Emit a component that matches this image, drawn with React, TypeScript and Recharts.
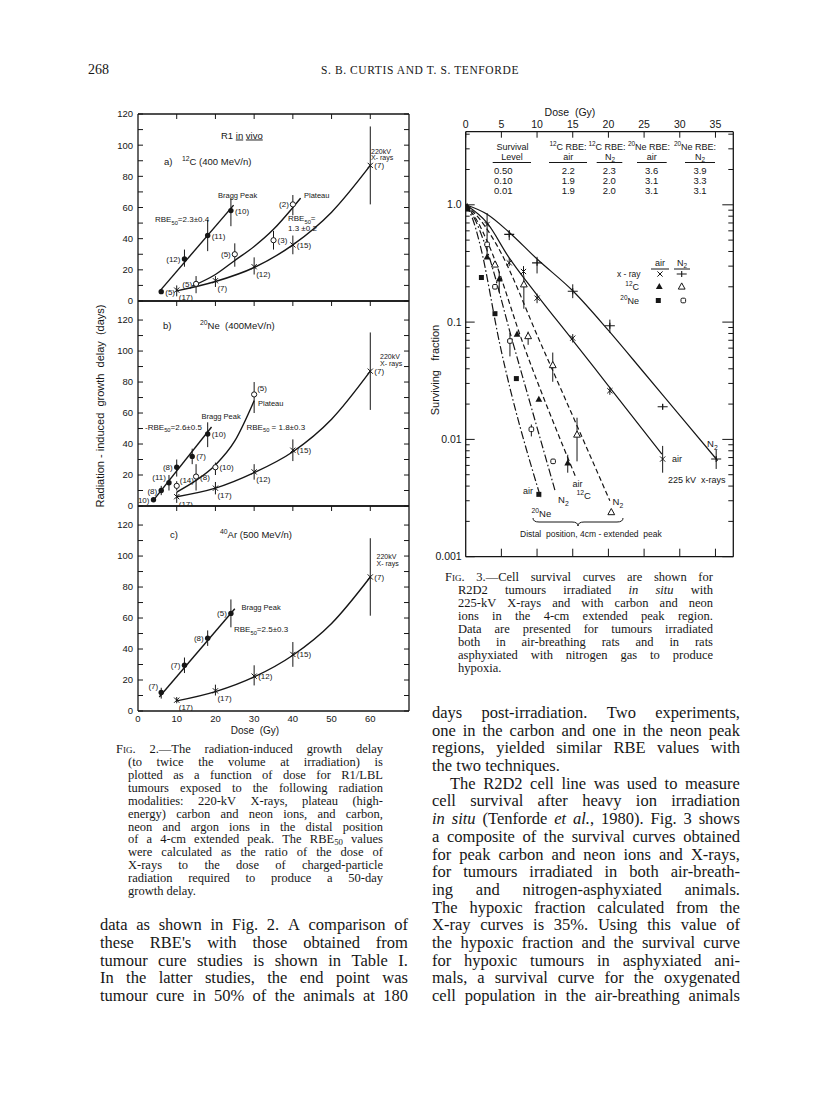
import React from 'react';
import { ComposedChart, Line, Scatter, XAxis, YAxis, ErrorBar } from 'recharts';

const INK = '#161616';
const SANS = '"Liberation Sans", Arial, sans-serif';
const SERIF = '"Liberation Serif", "Times New Roman", serif';

// ---------- Fig. 2: growth delay (days) vs dose (Gy); e = [down, up], n = tumours
const doseTicks = [0, 10, 20, 30, 40, 50, 60];
const delayTicks = [0, 10, 20, 30, 40, 50, 60, 70, 80, 90, 100, 110, 120];
const delayLabels = [0, 20, 40, 60, 80, 100, 120];

const cPeak = [
  { d: 6, v: 6, e: [1.5, 1.5], n: 5 },
  { d: 12, v: 27, e: [5, 6], n: 12 },
  { d: 18, v: 42, e: [10, 10], n: 11 },
  { d: 24, v: 58, e: [10, 8], n: 10 },
];
const cPeakSide = ['r', 'l', 'r', 'r'];
const cPlateau = [
  { d: 15, v: 11, e: [6, 5], n: 5 },
  { d: 25, v: 30, e: [8, 7], n: 5 },
  { d: 35, v: 39, e: [6, 6], n: 3 },
  { d: 40, v: 62, e: [7, 6], n: 2 },
];
const cPlateauSide = ['l', 'l', 'r', 'l'];
const cXray = [
  { d: 10, v: 7, e: [4, 3], n: 17 },
  { d: 20, v: 13, e: [4, 3], n: 7 },
  { d: 30, v: 22, e: [5, 6], n: 12 },
  { d: 40, v: 36, e: [6, 6], n: 15 },
  { d: 60, v: 87, e: [25, 25], n: 7 },
];
const cXraySide = ['br', 'br', 'br', 'r', 'r'];
const cPeakFit = [{ d: 5.5, v: 6 }, { d: 24.7, v: 61.5 }];
const cPlateauFit = [
  { d: 14, v: 9.5 }, { d: 20, v: 17 }, { d: 25, v: 26 }, { d: 30, v: 35 },
  { d: 35, v: 46 }, { d: 40, v: 60 }, { d: 42, v: 66 },
];
const cXrayFit = [
  { d: 10, v: 6.5 }, { d: 20, v: 12.5 }, { d: 30, v: 21.5 }, { d: 40, v: 36 },
  { d: 50, v: 57 }, { d: 60, v: 87 },
];

const nePeak = [
  { d: 4, v: 4, e: [1, 1], n: 10 },
  { d: 6, v: 10, e: [3, 3], n: 8 },
  { d: 8, v: 15, e: [5, 5], n: 11 },
  { d: 10, v: 25, e: [6, 5], n: 8 },
  { d: 14, v: 32, e: [5, 5], n: 7 },
  { d: 18, v: 46.5, e: [8.5, 7.5], n: 10 },
];
const nePeakSide = ['l', 'l', 'ul', 'l', 'r', 'r'];
const nePlateau = [
  { d: 10, v: 13, e: [3, 3], n: 14 },
  { d: 15, v: 19, e: [9, 8], n: 8 },
  { d: 20, v: 25, e: [5, 3], n: 10 },
  { d: 30, v: 72, e: [12, 8], n: 5 },
];
const nePlateauSide = ['ur', 'r', 'r', 'ur'];
const neXray = [
  { d: 10, v: 6, e: [4, 3], n: 17 },
  { d: 20, v: 11.5, e: [4, 4], n: 17 },
  { d: 30, v: 22, e: [5, 5], n: 12 },
  { d: 40, v: 36, e: [7, 7], n: 15 },
  { d: 60, v: 87, e: [25, 25], n: 7 },
];
const neXraySide = ['br', 'br', 'br', 'r', 'r'];
const nePeakFit = [{ d: 3.7, v: 2.8 }, { d: 19, v: 51 }];
const nePlateauFit = [
  { d: 10, v: 9 }, { d: 15, v: 16.5 }, { d: 20, v: 26.5 }, { d: 25, v: 42 }, { d: 30, v: 68 },
];
const neXrayFit = [
  { d: 10, v: 6 }, { d: 20, v: 11.5 }, { d: 30, v: 21.5 }, { d: 40, v: 35 },
  { d: 50, v: 56 }, { d: 60, v: 87 },
];

const arPeak = [
  { d: 6, v: 12, e: [4, 3], n: 7 },
  { d: 12, v: 29.5, e: [5, 5], n: 7 },
  { d: 18, v: 47, e: [5, 5], n: 8 },
  { d: 24, v: 63, e: [9, 9], n: 5 },
];
const arPeakSide = ['ul', 'l', 'l', 'l'];
const arXray = [
  { d: 10, v: 7, e: [2, 2], n: 17 },
  { d: 20, v: 13, e: [3, 4], n: 17 },
  { d: 30, v: 22.5, e: [6, 7], n: 12 },
  { d: 40, v: 36.5, e: [8, 8], n: 15 },
  { d: 60, v: 86.5, e: [25, 25], n: 7 },
];
const arXraySide = ['br', 'br', 'r', 'r', 'r'];
const arPeakFit = [{ d: 5.5, v: 9 }, { d: 25, v: 66 }];
const arXrayFit = [
  { d: 10, v: 6.5 }, { d: 20, v: 12.5 }, { d: 30, v: 22 }, { d: 40, v: 36 },
  { d: 50, v: 56.5 }, { d: 60, v: 86.5 },
];

// ---------- Fig. 3: surviving fraction vs dose (Gy)
const survDoseTicks = [0, 5, 10, 15, 20, 25, 30, 35];
const survMajor = [0.001, 0.01, 0.1, 1];
const survTicks = [
  0.001, 0.002, 0.003, 0.004, 0.005, 0.006, 0.007, 0.008, 0.009,
  0.01, 0.02, 0.03, 0.04, 0.05, 0.06, 0.07, 0.08, 0.09,
  0.1, 0.2, 0.3, 0.4, 0.5, 0.6, 0.7, 0.8, 0.9,
  1, 2, 3, 4,
];

const xAir = [
  { d: 3, v: 0.68, e: [0.13, 0.17] },
  { d: 6.1, v: 0.32, e: [0.02, 0.03] },
  { d: 8.1, v: 0.27, e: [0.02, 0.03] },
  { d: 10, v: 0.16, e: [0.015, 0.015] },
  { d: 15, v: 0.073, e: [0.006, 0.006] },
  { d: 20.2, v: 0.026, e: [0.002, 0.002] },
  { d: 27.6, v: 0.0068, e: [0.0016, 0.002] },
];
const xN2 = [
  { d: 6.1, v: 0.56, e: [0.06, 0.05] },
  { d: 10, v: 0.32, e: [0.06, 0.04] },
  { d: 15, v: 0.183, e: [0.023, 0.027] },
  { d: 20.2, v: 0.093, e: [0.012, 0.012] },
  { d: 27.6, v: 0.019, e: [0.001, 0.001] },
  { d: 35.1, v: 0.0068, e: [0.0012, 0.0014] },
];
const cAir = [
  { d: 0.2, v: 0.97, e: [0, 0] },
  { d: 3, v: 0.36, e: [0, 0] },
  { d: 4.7, v: 0.234, e: [0.054, 0.036] },
  { d: 7.2, v: 0.079, e: [0, 0] },
  { d: 10.25, v: 0.022, e: [0, 0] },
  { d: 14.3, v: 0.0063, e: [0.0011, 0.0011] },
];
const cN2 = [
  { d: 4.1, v: 0.31, e: [0, 0] },
  { d: 8.15, v: 0.21, e: [0.08, 0.04] },
  { d: 8.75, v: 0.076, e: [0.012, 0.007] },
  { d: 12.2, v: 0.043, e: [0.012, 0.012] },
  { d: 15.6, v: 0.011, e: [0.0045, 0.0043] },
  { d: 20.4, v: 0.0024, e: [0, 0] },
];
const neN2 = [
  { d: 3, v: 0.46, e: [0.1, 0.095] },
  { d: 4.1, v: 0.2, e: [0, 0] },
  { d: 6.2, v: 0.069, e: [0.018, 0.012] },
  { d: 9.2, v: 0.0122, e: [0.0016, 0.0012] },
  { d: 12.25, v: 0.0065, e: [0, 0] },
];
const neAir = [
  { d: 0.3, v: 0.92 },
  { d: 2.2, v: 0.24 },
  { d: 4.1, v: 0.118 },
  { d: 7.1, v: 0.033 },
  { d: 10.25, v: 0.0034 },
];

const xN2Fit = [
  { d: 0, v: 1 }, { d: 3, v: 0.83 }, { d: 6, v: 0.59 }, { d: 10, v: 0.345 }, { d: 15, v: 0.185 },
  { d: 20, v: 0.085 }, { d: 25, v: 0.037 }, { d: 30, v: 0.016 }, { d: 35.3, v: 0.0066 },
];
const xAirFit = [
  { d: 0, v: 1 }, { d: 3, v: 0.7 }, { d: 6, v: 0.36 }, { d: 10, v: 0.17 }, { d: 15, v: 0.07 },
  { d: 20, v: 0.0286 }, { d: 27.5, v: 0.0075 },
];
const cN2Fit = [{ d: 0, v: 1 }, { d: 2, v: 0.75 }, { d: 4.3, v: 0.46 }, { d: 10.6, v: 0.064 }, { d: 20.2, v: 0.003 }];
const cAirFit = [{ d: 0, v: 1 }, { d: 1.5, v: 0.75 }, { d: 3.2, v: 0.46 }, { d: 8.1, v: 0.064 }, { d: 15.4, v: 0.0048 }];
const neN2Fit = [{ d: 0, v: 1 }, { d: 1.3, v: 0.75 }, { d: 2.7, v: 0.46 }, { d: 6.7, v: 0.064 }, { d: 12.5, v: 0.0037 }];
const neAirFit = [{ d: 0, v: 1 }, { d: 1, v: 0.75 }, { d: 2, v: 0.46 }, { d: 4.8, v: 0.064 }, { d: 10.5, v: 0.0032 }];

const survLevels = ['0.50', '0.10', '0.01'];
const rbeCAir = ['2.2', '1.9', '1.9'];
const rbeCN2 = ['2.3', '2.0', '2.0'];
const rbeNeAir = ['3.6', '3.1', '3.1'];
const rbeNeN2 = ['3.9', '3.3', '3.1'];

// ---------- text
const fig2Caption = [
  '~Fig. 2.—The radiation-induced growth delay',
  '(to twice the volume at irradiation) is',
  'plotted as a function of dose for R1/LBL',
  'tumours exposed to the following radiation',
  'modalities: 220-kV X-rays, plateau (high-',
  'energy) carbon and neon ions, and carbon,',
  'neon and argon ions in the distal position',
  'of a 4-cm extended peak. The RBE_{50} values',
  'were calculated as the ratio of the dose of',
  'X-rays to the dose of charged-particle',
  'radiation required to produce a 50-day',
  'growth delay.',
];
const fig3Caption = [
  '~Fig. 3.—Cell survival curves are shown for',
  'R2D2 tumours irradiated *in* *situ* with',
  '225-kV X-rays and with carbon and neon',
  'ions in the 4-cm extended peak region.',
  'Data are presented for tumours irradiated',
  'both in air-breathing rats and in rats',
  'asphyxiated with nitrogen gas to produce',
  'hypoxia.',
];
const leftBody = [
  'data as shown in Fig. 2. A comparison of',
  "these RBE's with those obtained from",
  'tumour cure studies is shown in Table I.',
  'In the latter studies, the end point was',
  'tumour cure in 50% of the animals at 180',
];
const rightBody = [
  'days post-irradiation. Two experiments,',
  'one in the carbon and one in the neon peak',
  'regions, yielded similar RBE values with',
  'the two techniques.',
  'The R2D2 cell line was used to measure',
  'cell survival after heavy ion irradiation',
  '*in* *situ* (Tenforde *et* *al.*, 1980). Fig. 3 shows',
  'a composite of the survival curves obtained',
  'for peak carbon and neon ions and X-rays,',
  'for tumours irradiated in both air-breath-',
  'ing and nitrogen-asphyxiated animals.',
  'The hypoxic fraction calculated from the',
  'X-ray curves is 35%. Using this value of',
  'the hypoxic fraction and the survival curve',
  'for hypoxic tumours in asphyxiated ani-',
  'mals, a survival curve for the oxygenated',
  'cell population in the air-breathing animals',
];

// ---------- helpers
function Rich({ x, y, s, size = 8.5, anchor = 'start', family = SANS, rotate }: any) {
  const parts: { t: string; k: string }[] = [];
  const re = /([\^_])\{([^}]*)\}/g;
  let last = 0;
  let m: RegExpExecArray | null;
  while ((m = re.exec(s))) {
    if (m.index > last) parts.push({ t: s.slice(last, m.index), k: 'n' });
    parts.push({ t: m[2], k: m[1] === '^' ? 'sup' : 'sub' });
    last = re.lastIndex;
  }
  if (last < s.length) parts.push({ t: s.slice(last), k: 'n' });
  let cur = 0;
  return (
    <text
      x={x}
      y={y}
      fontSize={size}
      fontFamily={family}
      textAnchor={anchor}
      fill={INK}
      transform={rotate ? `rotate(${rotate} ${x} ${y})` : undefined}
      style={{ whiteSpace: 'pre' }}
    >
      {parts.map((p, i) => {
        const target = p.k === 'sup' ? -size * 0.42 : p.k === 'sub' ? size * 0.32 : 0;
        const dy = target - cur;
        cur = target;
        return (
          <tspan key={i} dy={dy} fontSize={p.k === 'n' ? size : size * 0.72}>
            {p.t}
          </tspan>
        );
      })}
    </text>
  );
}

function Mark({ kind, cx, cy }: any) {
  const sw = 1;
  switch (kind) {
    case 'dot':
      return <circle cx={cx} cy={cy} r={2.7} fill={INK} />;
    case 'ring':
      return <circle cx={cx} cy={cy} r={2.6} fill="#fff" stroke={INK} strokeWidth={sw} />;
    case 'x':
      return (
        <path d={`M${cx - 2.6},${cy - 2.6}L${cx + 2.6},${cy + 2.6}M${cx - 2.6},${cy + 2.6}L${cx + 2.6},${cy - 2.6}`} stroke={INK} strokeWidth={sw} />
      );
    case 'plus':
      return <path d={`M${cx - 5},${cy}L${cx + 5},${cy}M${cx},${cy - 3}L${cx},${cy + 3}`} stroke={INK} strokeWidth={1.1} />;
    case 'tri':
      return <path d={`M${cx},${cy - 3.6}L${cx + 3.4},${cy + 2.6}L${cx - 3.4},${cy + 2.6}Z`} fill={INK} />;
    case 'triOpen':
      return <path d={`M${cx},${cy - 3.6}L${cx + 3.4},${cy + 2.6}L${cx - 3.4},${cy + 2.6}Z`} fill="#fff" stroke={INK} strokeWidth={sw} />;
    case 'sq':
      return <rect x={cx - 2.5} y={cy - 2.5} width={5} height={5} fill={INK} />;
    case 'sqOpen':
      return <rect x={cx - 2.3} y={cy - 2.3} width={4.6} height={4.6} rx={1.2} fill="#fff" stroke={INK} strokeWidth={sw} />;
    default:
      return null;
  }
}

const SIDE_OFF: Record<string, [number, number, string]> = {
  r: [4, 3, 'start'],
  l: [-4, 3, 'end'],
  ul: [-3, -3, 'end'],
  ur: [3, -3, 'start'],
  br: [2, 10, 'start'],
};

const growthShape = (kind: string, pts: any[], sides: string[]) => (p: any) => {
  const i = pts.findIndex((q) => q.d === p.payload?.d && q.v === p.payload?.v);
  const [dx, dy, anchor] = SIDE_OFF[sides[i] ?? 'r'];
  return (
    <g>
      <Mark kind={kind} cx={p.cx} cy={p.cy} />
      <text x={p.cx + dx} y={p.cy + dy} textAnchor={anchor} fontSize={8} fontFamily={SANS} fill={INK}>
        ({pts[i]?.n})
      </text>
    </g>
  );
};

const survShape = (kind: string) => (p: any) => <Mark kind={kind} cx={p.cx} cy={p.cy} />;

const frame = { stroke: INK, strokeWidth: 1.3 };

const tickStub = (dx: number, dy: number) => (p: any) => (
  <line x1={p.x} y1={p.y} x2={p.x + dx} y2={p.y + dy} stroke={INK} strokeWidth={1} />
);

const delayLeftTick = (p: any) => (
  <g>
    <line x1={p.x} y1={p.y} x2={p.x + 5} y2={p.y} stroke={INK} strokeWidth={1} />
    {delayLabels.includes(p.payload.value) && (
      <text x={p.x - 5} y={p.y + 3.4} textAnchor="end" fontSize={9.5} fontFamily={SANS} fill={INK}>
        {p.payload.value}
      </text>
    )}
  </g>
);

const doseBottomTick = (p: any) => (
  <text x={p.x} y={p.y + 10.5} textAnchor="middle" fontSize={9.5} fontFamily={SANS} fill={INK}>
    {p.payload.value}
  </text>
);

// axes need a non-zero size to be drawn, so each one takes 1px of the margin
function GrowthPanel(props: any) {
  const { top, height, mTop, mBottom, yMax, series, fits, showDose } = props;
  return (
    <div style={{ position: 'absolute', left: 90, top, width: 330, height }}>
      <ComposedChart width={330} height={height} margin={{ top: mTop - 1, right: 10, bottom: mBottom - 1, left: 47 }}>
        <XAxis xAxisId={0} type="number" dataKey="d" domain={[0, 70]} allowDataOverflow ticks={doseTicks} interval={0}
          height={1} tickSize={0} tickMargin={0} axisLine={frame} tick={showDose ? doseBottomTick : false} />
        <XAxis xAxisId="t" orientation="top" type="number" dataKey="d" domain={[0, 70]} allowDataOverflow
          ticks={doseTicks.slice(1)} interval={0} height={1} tickSize={0} tickMargin={0} axisLine={frame} tick={tickStub(0, 5)} />
        <YAxis yAxisId={0} type="number" dataKey="v" domain={[0, yMax]} allowDataOverflow ticks={delayTicks} interval={0}
          width={1} tickSize={0} tickMargin={0} axisLine={frame} tick={delayLeftTick} />
        <YAxis yAxisId="r" orientation="right" type="number" dataKey="v" domain={[0, yMax]} allowDataOverflow
          ticks={delayTicks} interval={0} width={1} tickSize={0} tickMargin={0} axisLine={frame} tick={tickStub(-5, 0)} />
        {fits.map((f: any[], i: number) => (
          <Line key={`f${i}`} data={f} dataKey="v" type="monotone" stroke={INK} strokeWidth={1.4} dot={false}
            activeDot={false} isAnimationActive={false} />
        ))}
        {series.map((s: any, i: number) => (
          <Scatter key={`s${i}`} data={s.pts} dataKey="v" isAnimationActive={false} shape={growthShape(s.kind, s.pts, s.sides)}>
            <ErrorBar dataKey="e" direction="y" width={0} stroke={INK} strokeWidth={1} />
          </Scatter>
        ))}
      </ComposedChart>
    </div>
  );
}

const survTopTick = (p: any) => (
  <g>
    <line x1={p.x} y1={p.y} x2={p.x} y2={p.y + 6} stroke={INK} strokeWidth={1} />
    <text x={p.x} y={p.y - 3.5} textAnchor="middle" fontSize={10.5} fontFamily={SANS} fill={INK}>
      {p.payload.value}
    </text>
  </g>
);

const survLabel = (v: number) => (v === 1 ? '1.0' : String(v));

const survLeftTick = (p: any) => {
  const major = survMajor.includes(p.payload.value);
  return (
    <g>
      <line x1={p.x} y1={p.y} x2={p.x + (major ? 9 : 4)} y2={p.y} stroke={INK} strokeWidth={1} />
      {major && (
        <text x={p.x - 4} y={p.y + 3.6} textAnchor="end" fontSize={10.5} fontFamily={SANS} fill={INK}>
          {survLabel(p.payload.value)}
        </text>
      )}
    </g>
  );
};

const survRightTick = (p: any) => {
  const major = survMajor.includes(p.payload.value);
  return <line x1={p.x} y1={p.y} x2={p.x - (major ? 11 : 5)} y2={p.y} stroke={INK} strokeWidth={1} />;
};

function SurvivalChart() {
  const fits = [
    { pts: xN2Fit, dash: undefined },
    { pts: xAirFit, dash: undefined },
    { pts: cN2Fit, dash: '5 3' },
    { pts: cAirFit, dash: '5 3' },
    { pts: neN2Fit, dash: '8 2.5 1.6 2.5' },
    { pts: neAirFit, dash: '8 2.5 1.6 2.5' },
  ];
  const pts = [
    { pts: xAir, kind: 'x' },
    { pts: xN2, kind: 'plus' },
    { pts: cAir, kind: 'tri' },
    { pts: cN2, kind: 'triOpen' },
    { pts: neN2, kind: 'sqOpen' },
  ];
  return (
    <div style={{ position: 'absolute', left: 420, top: 90, width: 340, height: 480 }}>
      <ComposedChart width={340} height={480} margin={{ top: 40.7, right: 25.7, bottom: 12.3, left: 44.7 }}>
        <XAxis xAxisId={0} orientation="top" type="number" dataKey="d" domain={[0, 37.5]} allowDataOverflow
          ticks={survDoseTicks} interval={0} height={1} tickSize={0} tickMargin={0} axisLine={frame} tick={survTopTick} />
        <XAxis xAxisId="b" orientation="bottom" type="number" dataKey="d" domain={[0, 37.5]} allowDataOverflow
          ticks={survDoseTicks.slice(1)} interval={0} height={1} tickSize={0} tickMargin={0} axisLine={frame} tick={tickStub(0, -8)} />
        <YAxis yAxisId={0} type="number" dataKey="v" scale="log" domain={[0.001, 4.2]} allowDataOverflow
          ticks={survTicks} interval={0} width={1} tickSize={0} tickMargin={0} axisLine={frame} tick={survLeftTick} />
        <YAxis yAxisId="r" orientation="right" type="number" dataKey="v" scale="log" domain={[0.001, 4.2]} allowDataOverflow
          ticks={survTicks} interval={0} width={1} tickSize={0} tickMargin={0} axisLine={frame} tick={survRightTick} />
        {fits.map((f, i) => (
          <Line key={`f${i}`} data={f.pts} dataKey="v" type="monotone" stroke={INK} strokeWidth={1.2}
            strokeDasharray={f.dash} dot={false} activeDot={false} isAnimationActive={false} />
        ))}
        {pts.map((s, i) => (
          <Scatter key={`p${i}`} data={s.pts} dataKey="v" isAnimationActive={false} shape={survShape(s.kind)}>
            <ErrorBar dataKey="e" direction="y" width={0} stroke={INK} strokeWidth={1} />
          </Scatter>
        ))}
        <Scatter data={neAir} dataKey="v" isAnimationActive={false} shape={survShape('sq')} />
      </ComposedChart>
    </div>
  );
}

// word with *italic*, ~small caps, _{sub}
function Word({ w }: { w: string }) {
  let smallCaps = false;
  let s = w;
  if (s.startsWith('~')) {
    smallCaps = true;
    s = s.slice(1);
  }
  const segs = s.split('*');
  return (
    <span style={{ fontVariant: smallCaps ? 'small-caps' : undefined }}>
      {segs.map((seg, i) => {
        const sub = seg.match(/^(.*)_\{(.*)\}(.*)$/);
        const body = sub ? (
          <>
            {sub[1]}
            <sub style={{ fontSize: '0.7em', verticalAlign: '-0.25em', lineHeight: 0 }}>{sub[2]}</sub>
            {sub[3]}
          </>
        ) : (
          seg
        );
        return (
          <span key={i} style={{ fontStyle: i % 2 === 1 ? 'italic' : 'normal' }}>
            {body}
          </span>
        );
      })}
    </span>
  );
}

function TextLine({ x, y, w, text, size, last }: any) {
  const words = text.split(' ');
  return (
    <div
      style={{
        position: 'absolute',
        left: x,
        top: y - size * 0.55,
        width: w,
        height: size * 0.9,
        display: 'flex',
        alignItems: 'flex-start',
        justifyContent: last ? 'flex-start' : 'space-between',
        columnGap: last ? '0.25em' : 2,
        whiteSpace: 'nowrap',
        fontFamily: SERIF,
        fontSize: size,
        lineHeight: 0.9,
        color: INK,
      }}
    >
      {words.map((wd: string, i: number) => (
        <Word key={i} w={wd} />
      ))}
    </div>
  );
}

function Overlay() {
  const t = (x: number, y: number, s: string, size = 8.5, anchor = 'start') => <Rich x={x} y={y} s={s} size={size} anchor={anchor} />;
  const ul = (x1: number, x2: number, y: number) => <line x1={x1} x2={x2} y1={y} y2={y} stroke={INK} strokeWidth={1} />;
  const tableCols = [
    { h1: '^{12}C RBE:', c1: 568, h2: 'air', c2: 568.3, u: [549, 587], vals: rbeCAir, cv: 568.3 },
    { h1: '^{12}C RBE:', c1: 607, h2: 'N_{2}', c2: 610, u: [596.7, 622.3], vals: rbeCN2, cv: 609.3 },
    { h1: '^{20}Ne RBE:', c1: 649, h2: 'air', c2: 651.7, u: [637, 666.7], vals: rbeNeAir, cv: 651.7 },
    { h1: '^{20}Ne RBE:', c1: 695, h2: 'N_{2}', c2: 700, u: [685, 715], vals: rbeNeN2, cv: 700 },
  ];
  return (
    <svg width={816} height={1111} style={{ position: 'absolute', left: 0, top: 0, pointerEvents: 'none' }}>
      {/* Fig. 2 */}
      <Rich x={104} y={406} s="Radiation - induced  growth  delay  (days)" size={11} anchor="middle" rotate={-90} />
      <Rich x={255} y={733.5} s="Dose  (Gy)" size={10} anchor="middle" />
      <text x={221} y={138.5} fontSize={9.5} fontFamily={SANS} fill={INK}>
        R1{' '}
        <tspan style={{ textDecoration: 'underline' }}>in</tspan>{' '}
        <tspan style={{ textDecoration: 'underline' }}>vivo</tspan>
      </text>
      {t(164, 164.5, 'a)', 9.5)}
      {t(182, 164.5, '^{12}C (400 MeV/n)', 9.5)}
      {t(218, 197.5, 'Bragg Peak', 7.5)}
      {t(155, 222, 'RBE_{50}=2.3±0.4', 8)}
      {t(304, 197.5, 'Plateau', 7.5)}
      {t(288, 221, 'RBE_{50}=', 8)}
      {t(288, 230.5, '1.3 ±0.2', 8)}
      {t(371, 153.5, '220kV', 7)}
      {t(371, 160, 'X- rays', 7)}

      {t(163, 329, 'b)', 9.5)}
      {t(200, 329, '^{20}Ne  (400MeV/n)', 9.5)}
      {t(380, 359, '220kV', 7)}
      {t(380, 366, 'X- rays', 7)}
      {t(258, 406, 'Plateau', 7.5)}
      {t(201.5, 419, 'Bragg Peak', 7.5)}
      {t(145, 429.5, '-RBE_{50}=2.6±0.5', 8)}
      {t(246.5, 429.5, 'RBE_{50} = 1.8±0.3', 8)}

      {t(170, 538, 'c)', 9.5)}
      {t(220, 538, '^{40}Ar (500 MeV/n)', 9.5)}
      {t(376.5, 559, '220kV', 7)}
      {t(376.5, 566, 'X- rays', 7)}
      {t(241.5, 609.5, 'Bragg Peak', 7.5)}
      {t(234, 632, 'RBE_{50}=2.5±0.3', 8)}

      {/* Fig. 3 */}
      <Rich x={570} y={115.5} s="Dose  (Gy)" size={10.5} anchor="middle" />
      <Rich x={439} y={370} s="Surviving   fraction" size={11} anchor="middle" rotate={-90} />
      {t(512.5, 149.5, 'Survival', 9, 'middle')}
      {t(512, 159.5, 'Level', 9, 'middle')}
      {ul(492.7, 531, 162.5)}
      {survLevels.map((s, i) => (
        <React.Fragment key={s}>{t(494, 173.5 + i * 10, s, 9.5)}</React.Fragment>
      ))}
      {tableCols.map((c, j) => (
        <g key={j}>
          {t(c.c1, 149.5, c.h1, 9, 'middle')}
          {t(c.c2, 159.5, c.h2, 9, 'middle')}
          {ul(c.u[0], c.u[1], 162.5)}
          {c.vals.map((v, i) => (
            <React.Fragment key={i}>{t(c.cv, 173.5 + i * 10, v, 9.5, 'middle')}</React.Fragment>
          ))}
        </g>
      ))}

      {t(660, 265.5, 'air', 9, 'middle')}
      {t(682, 265.5, 'N_{2}', 9, 'middle')}
      {ul(651, 669, 269)}
      {ul(674, 690, 269)}
      {t(640.5, 277, 'x - ray', 8.5, 'end')}
      <Mark kind="x" cx={660} cy={274} />
      <Mark kind="plus" cx={681.7} cy={274} />
      {t(639, 289.5, '^{12}C', 9, 'end')}
      <Mark kind="tri" cx={659.3} cy={286.5} />
      <Mark kind="triOpen" cx={681.7} cy={286.5} />
      {t(639, 303.5, '^{20}Ne', 9, 'end')}
      <Mark kind="sq" cx={658.3} cy={300.5} />
      <Mark kind="sqOpen" cx={683.3} cy={300.5} />

      {t(707, 446.5, 'N_{2}', 9.5)}
      {t(672, 461.5, 'air', 9)}
      {t(668, 483, '225 kV  x-rays', 9)}
      {t(523, 494, 'air', 9)}
      {t(531.5, 516.5, '^{20}Ne', 9.5)}
      {t(558, 503, 'N_{2}', 9.5)}
      {t(572.5, 486.5, 'air', 9)}
      {t(576.5, 498.5, '^{12}C', 9.5)}
      {t(612.5, 505, 'N_{2}', 9.5)}
      <path d="M533,518 Q533,522 539,522 L572,522 Q578,522 578,526 Q578,522 584,522 L617,522 Q623,522 623,518" fill="none" stroke={INK} strokeWidth={1} />
      {t(520, 536.5, 'Distal  position, 4cm - extended  peak', 8.5)}
    </svg>
  );
}

export default function App() {
  return (
    <div style={{ position: 'absolute', left: 0, top: 0, width: 816, height: 1111, background: '#fff', overflow: 'hidden' }}>
      <div style={{ position: 'absolute', left: 88, top: 62, fontFamily: SERIF, fontSize: 14, color: INK }}>268</div>
      <div style={{ position: 'absolute', left: 300, width: 240, top: 64, textAlign: 'center', fontFamily: SERIF, fontSize: 11.5, letterSpacing: 0.6, color: INK }}>
        S. B. CURTIS AND T. S. TENFORDE
      </div>

      <GrowthPanel top={100} height={210} mTop={14} mBottom={9} yMax={120}
        fits={[cPeakFit, cPlateauFit, cXrayFit]}
        series={[
          { pts: cPeak, kind: 'dot', sides: cPeakSide },
          { pts: cPlateau, kind: 'ring', sides: cPlateauSide },
          { pts: cXray, kind: 'x', sides: cXraySide },
        ]} />
      <GrowthPanel top={290} height={226} mTop={11} mBottom={10} yMax={132.3}
        fits={[nePeakFit, nePlateauFit, neXrayFit]}
        series={[
          { pts: nePeak, kind: 'dot', sides: nePeakSide },
          { pts: nePlateau, kind: 'ring', sides: nePlateauSide },
          { pts: neXray, kind: 'x', sides: neXraySide },
        ]} />
      <GrowthPanel top={496} height={250} mTop={10} mBottom={35} yMax={132.3} showDose
        fits={[arPeakFit, arXrayFit]}
        series={[
          { pts: arPeak, kind: 'dot', sides: arPeakSide },
          { pts: arXray, kind: 'x', sides: arXraySide },
        ]} />

      <SurvivalChart />
      <Overlay />

      {fig2Caption.map((s, i) => (
        <TextLine key={`c2${i}`} x={i === 0 ? 116 : 128} w={i === 0 ? 267 : 255} y={751 + i * 12.9} text={s} size={12.5} last={i === fig2Caption.length - 1} />
      ))}
      {fig3Caption.map((s, i) => (
        <TextLine key={`c3${i}`} x={i === 0 ? 445 : 458} w={i === 0 ? 268 : 255} y={579 + i * 13} text={s} size={12.5} last={i === fig3Caption.length - 1} />
      ))}
      {leftBody.map((s, i) => (
        <TextLine key={`lb${i}`} x={100} w={308} y={715 + (i + 12) * 17.7} text={s} size={16.5} />
      ))}
      {rightBody.map((s, i) => (
        <TextLine key={`rb${i}`} x={i === 4 ? 450 : 432} w={i === 4 ? 290 : 308} y={715 + i * 17.7} text={s} size={16.5} last={i === 3} />
      ))}
    </div>
  );
}
